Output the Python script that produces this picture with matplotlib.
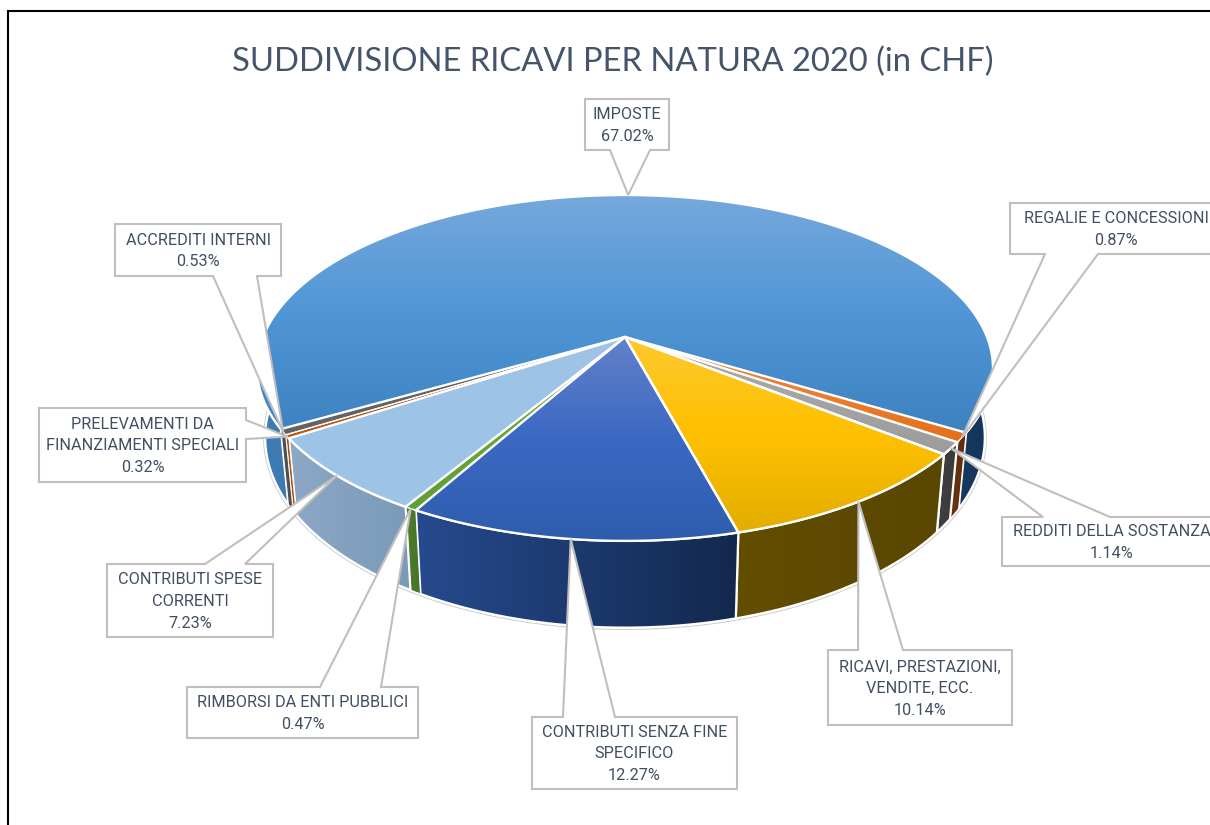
import numpy as np
import matplotlib
matplotlib.use("Agg")
import matplotlib.pyplot as plt
from matplotlib.colors import to_rgb
from matplotlib.patches import Polygon

categories = ["IMPOSTE", "REGALIE E CONCESSIONI", "REDDITI DELLA SOSTANZA",
              "RICAVI, PRESTAZIONI,\nVENDITE, ECC.", "CONTRIBUTI SENZA FINE\nSPECIFICO",
              "RIMBORSI DA ENTI PUBBLICI", "CONTRIBUTI SPESE\nCORRENTI",
              "PRELEVAMENTI DA\nFINANZIAMENTI SPECIALI", "ACCREDITI INTERNI"]
values = [67.02, 0.87, 1.14, 10.14, 12.27, 0.47, 7.23, 0.32, 0.53]

# top face gradient (upper, middle, lower)
top_colors = [("#76a8dc", "#5096d6", "#3d81c0"), ("#ee8233", "#ed7d31", "#e56f17"),
              ("#a8a8a8", "#a5a5a5", "#9c9c9c"), ("#fdc92f", "#ffc000", "#e3ae00"),
              ("#6281ca", "#3b69c2", "#2e5cad"), ("#68ab3c", "#66a836", "#5f9f33"),
              ("#9dc3e6", "#9dc3e6", "#9dc3e6"), ("#bd5410", "#bd5410", "#bd5410"),
              ("#636363", "#636363", "#636363")]
# side wall gradient (left, right)
side_colors = [("#3f7cb6", "#15355a"), ("#6b330f", "#5f2c0c"), ("#404040", "#3a3a3a"),
               ("#624d00", "#5a4700"), ("#264a8e", "#13284e"), ("#4c7c2b", "#487528"),
               ("#8ca8c6", "#7a9ab7"), ("#a9501a", "#a9501a"), ("#505050", "#505050")]

# box of each callout: x0, y0, x1, y1, side of the tail, tail base start, tail base end
boxes = [(585, 99, 669, 150, "bottom", 610, 650),
         (1010, 203, 1222, 254, "bottom", 1045, 1098),
         (1002, 517, 1222, 566, "top", 1043, 1110),
         (828, 650, 1012, 725, "top", 858, 903),
         (532, 717, 737, 789, "top", 563, 615),
         (187, 687, 418, 738, "top", 320, 381),
         (107, 564, 273, 637, "top", 205, 245),
         (39, 408, 246, 482, "right", 420, 439),
         (115, 224, 281, 276, "bottom", 213, 257)]

title = "SUDDIVISIONE RICAVI PER NATURA 2020 (in CHF)"


def rim(theta, cy, a, b, k=0.179):
    # theta in degrees, clockwise from the back of the pie, with perspective
    t = np.radians(theta)
    w = 1 + k * np.cos(t)
    return 625 + a * np.sin(t) / w, cy - b * np.cos(t) / w


def top_rim(theta):
    return rim(theta, 337, 362, 167.4)


def bottom_rim(theta):
    return rim(theta, 403.5, 354, 184)


def gradient(ax, poly, colors, zorder, vertical=True):
    rgb = [to_rgb(c) for c in colors]
    stops = np.linspace(0, 1, len(rgb))
    pos = np.linspace(0, 1, 128)
    img = np.stack([np.interp(pos, stops, [c[i] for c in rgb]) for i in range(3)], axis=-1)
    img = img[:, None, :] if vertical else img[None, :, :]
    x0, y0 = poly.min(axis=0)
    x1, y1 = poly.max(axis=0)
    patch = Polygon(poly, closed=True, fc="none", ec="none", transform=ax.transData)
    ax.add_patch(patch)
    im = ax.imshow(img, extent=(x0, x1, y1, y0), aspect="auto", origin="upper",
                   interpolation="bilinear", zorder=zorder)
    im.set_clip_path(patch)


fig = plt.figure(figsize=(12.1, 8.25), dpi=100)
ax = fig.add_axes([0, 0, 1, 1])
ax.set_xlim(0, 1210)
ax.set_ylim(825, 0)
ax.axis("off")
ax.set_autoscale_on(False)

# frame of the pasted picture
ax.plot([8, 8, 1210], [825, 11, 11], color="black", lw=1.5, solid_joinstyle="miter", zorder=1)

ax.text(613, 62, title, family=["Lato", "DejaVu Sans"], fontsize=23.6, color="#44546a",
        ha="center", va="center", zorder=8)

shares = np.array(values) / sum(values) * 360
starts = 0.6 - shares[0] / 2 + np.concatenate([[0], np.cumsum(shares)[:-1]])
ends = starts + shares

# thin grey line under the base
th = np.linspace(0, 360, 361)
bx, by = rim(th, 403.5, 355.5, 185.5)
ax.add_patch(Polygon(np.column_stack([bx, by]), closed=True, fc="white", ec="#cfcfcf", lw=0.8, zorder=2))

# side walls first, the top faces hide what is behind
for i in range(len(values)):
    th = np.linspace(starts[i], ends[i], 200)
    tx, ty = top_rim(th)
    bx, by = bottom_rim(th)
    poly = np.column_stack([np.r_[tx, bx[::-1]], np.r_[ty, by[::-1]]])
    gradient(ax, poly, side_colors[i], 3 + i * 0.01, vertical=False)
    # thin slices get a thinner white edge or they vanish
    lw = 1.6 if values[i] > 1 else 0.8
    ax.add_patch(Polygon(poly, closed=True, fc="none", ec="white", lw=lw, zorder=3.005 + i * 0.01))

for i in range(len(values)):
    th = np.linspace(starts[i], ends[i], 300)
    tx, ty = top_rim(th)
    poly = np.column_stack([np.r_[625, tx], np.r_[337, ty]])
    gradient(ax, poly, top_colors[i], 4)
    lw = 1.7 if values[i] > 1 else 0.9
    ax.add_patch(Polygon(poly, closed=True, fc="none", ec="white", lw=lw, zorder=5))

# callouts with the tail going to the middle of each slice
for i, (x0, y0, x1, y1, side, t0, t1) in enumerate(boxes):
    ax_, ay_ = top_rim((starts[i] + ends[i]) / 2)
    if side == "bottom":
        pts = [(x0, y0), (x1, y0), (x1, y1), (t1, y1), (ax_, ay_), (t0, y1), (x0, y1)]
    elif side == "top":
        pts = [(x0, y0), (t0, y0), (ax_, ay_), (t1, y0), (x1, y0), (x1, y1), (x0, y1)]
    else:
        pts = [(x0, y0), (x1, y0), (x1, t0), (ax_, ay_), (x1, t1), (x1, y1), (x0, y1)]
    ax.add_patch(Polygon(pts, closed=True, fc="white", ec="#bfbfbf", lw=1.5, zorder=6,
                         joinstyle="miter"))
    ax.text((x0 + x1) / 2, (y0 + y1) / 2 + 1, f"{categories[i]}\n{values[i]:.2f}%",
            family=["Roboto", "Liberation Sans"], fontsize=11.7,
            color="#414f63", ha="center", va="center", linespacing=1.55, zorder=7)

fig.savefig("out.png", dpi=100, facecolor="white")
